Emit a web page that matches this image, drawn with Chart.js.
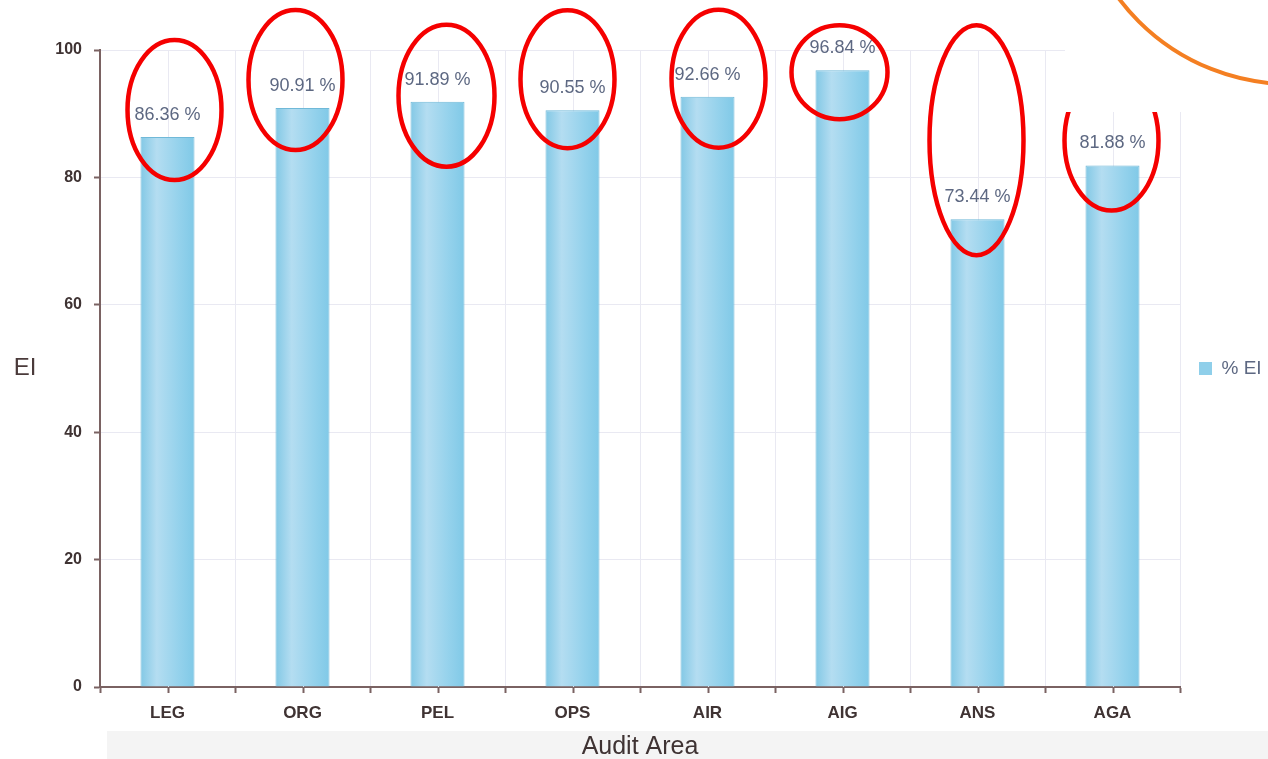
<!DOCTYPE html>
<html>
<head>
<meta charset="utf-8">
<script src="https://cdn.jsdelivr.net/npm/chart.js@4"></script>
<style>
  body { margin: 0; background: #fff; }
  canvas { display: block; }
</style>
</head>
<body>
<canvas id="audit" width="1268" height="759"></canvas>
<script>
// chart data
const areas = ['LEG', 'ORG', 'PEL', 'OPS', 'AIR', 'AIG', 'ANS', 'AGA'];
const eiValues = [86.36, 90.91, 91.89, 90.55, 92.66, 96.84, 73.44, 81.88];
const seriesName = '% EI';
const yTicks = [0, 20, 40, 60, 80, 100];

const FONT = "'Liberation Sans', Arial, sans-serif";
const axisColor = '#7a6262';
const gridColor = '#e9e9f2';
const labelColor = '#5d6882';

// hand-drawn red marks, placed relative to each bar (offset from bar centre / bar top)
const marks = [
    { dx: 7, dy: -27, rx: 47, ry: 70 },
    { dx: -7, dy: -28, rx: 47, ry: 70 },
    { dx: 9, dy: -6, rx: 48, ry: 71 },
    { dx: -5, dy: -31, rx: 47, ry: 69 },
    { dx: 11, dy: -18, rx: 47, ry: 69 },
    { dx: -3, dy: 2, rx: 48, ry: 47 },
    { dx: -1, dy: -79, rx: 47, ry: 115 },
    { dx: -1, dy: -25, rx: 47, ry: 70 }
];

function barGradient(c) {
    const chart = c.chart;
    const x = chart.scales.x;
    if (!chart.chartArea || !x || c.dataIndex === undefined) return '#95d2ea';
    const cx = x.getPixelForValue(c.dataIndex);
    const w = x.width / areas.length * 0.4;
    const g = chart.ctx.createLinearGradient(cx - w / 2, 0, cx + w / 2, 0);
    g.addColorStop(0, '#82c8e5');
    g.addColorStop(0.3, '#b4ddf1');
    g.addColorStop(0.7, '#95d2ec');
    g.addColorStop(1, '#80c9e7');
    return g;
}

const extras = {
    id: 'extras',
    beforeInit(chart) {
        const fit = chart.legend.fit;
        chart.legend.fit = function () {
            fit.call(this);
            this.width = 88;
        };
    },
    afterLayout(chart) {
        // keep the legend centred on the plot area
        const lg = chart.legend;
        lg.top = chart.chartArea.top;
        lg.bottom = chart.chartArea.bottom;
        lg.height = lg.bottom - lg.top;
    },
    beforeDraw(chart) {
        const ctx = chart.ctx;
        ctx.save();
        ctx.fillStyle = '#f4f4f4';
        ctx.fillRect(107, 731, chart.width - 107, chart.height - 731);
        ctx.restore();
    },
    beforeDatasetsDraw(chart) {
        const ctx = chart.ctx;
        const x = chart.scales.x;
        const area = chart.chartArea;
        ctx.save();
        areas.forEach((a, i) => {
            const px = Math.round(x.getPixelForValue(i)) + 0.5;
            ctx.strokeStyle = gridColor;
            ctx.lineWidth = 1;
            ctx.beginPath();
            ctx.moveTo(px, area.top);
            ctx.lineTo(px, area.bottom);
            ctx.stroke();
            ctx.strokeStyle = axisColor;
            ctx.lineWidth = 2;
            ctx.beginPath();
            ctx.moveTo(px, area.bottom);
            ctx.lineTo(px, area.bottom + 6);
            ctx.stroke();
        });
        // y axis title, written horizontally
        ctx.fillStyle = '#4a3a3a';
        ctx.font = '24px ' + FONT;
        ctx.textAlign = 'center';
        ctx.textBaseline = 'middle';
        ctx.fillText('EI', 25, (area.top + area.bottom) / 2);
        ctx.restore();
    },
    afterDatasetsDraw(chart) {
        const ctx = chart.ctx;
        const meta = chart.getDatasetMeta(0);
        ctx.save();
        ctx.fillStyle = labelColor;
        ctx.font = '18px ' + FONT;
        ctx.textAlign = 'center';
        ctx.textBaseline = 'alphabetic';
        meta.data.forEach((bar, i) => {
            ctx.fillText(eiValues[i].toFixed(2) + ' %', bar.x, bar.y - 17);
        });
        ctx.restore();
    },
    afterDraw(chart) {
        const ctx = chart.ctx;
        const meta = chart.getDatasetMeta(0);
        ctx.save();
        ctx.strokeStyle = '#f50000';
        ctx.lineWidth = 4.5;
        meta.data.forEach((bar, i) => {
            const m = marks[i];
            ctx.beginPath();
            ctx.ellipse(bar.x + m.dx, bar.y + m.dy, m.rx, m.ry, 0, 0, Math.PI * 2);
            ctx.stroke();
        });
        // pasted white patch over the top right corner
        ctx.fillStyle = '#ffffff';
        ctx.fillRect(1065, 0, chart.width - 1065, 112);
        // orange stroke from the slide behind
        ctx.strokeStyle = '#f47f22';
        ctx.lineWidth = 4;
        ctx.beginPath();
        ctx.arc(1290, -130, 214, 0, Math.PI);
        ctx.stroke();
        ctx.restore();
    }
};

new Chart(document.getElementById('audit'), {
    type: 'bar',
    data: {
        labels: areas,
        datasets: [{
            label: seriesName,
            data: eiValues,
            backgroundColor: barGradient,
            borderColor: '#70b9d8',
            borderWidth: 1,
            categoryPercentage: 1,
            barPercentage: 0.4
        }]
    },
    options: {
        responsive: false,
        animation: false,
        layout: { padding: { top: 50, left: 0, right: 0, bottom: 0 } },
        plugins: {
            tooltip: { enabled: false },
            legend: {
                position: 'right',
                labels: {
                    boxWidth: 13,
                    boxHeight: 13,
                    padding: 19,
                    color: labelColor,
                    font: { family: FONT, size: 19 },
                    generateLabels: chart => [{
                        text: seriesName,
                        fillStyle: '#8fcfea',
                        strokeStyle: '#8fcfea',
                        fontColor: labelColor,
                        lineWidth: 0,
                        datasetIndex: 0
                    }]
                }
            }
        },
        scales: {
            x: {
                afterFit: s => { s.height = 72; },
                grid: {
                    color: gridColor,
                    tickColor: axisColor,
                    tickLength: 6,
                    tickWidth: 2,
                    offset: true
                },
                border: { color: axisColor, width: 2 },
                ticks: {
                    color: '#3f3333',
                    padding: 10,
                    font: { family: FONT, size: 17, weight: 'bold' }
                },
                title: {
                    display: true,
                    text: 'Audit Area',
                    color: '#3f3333',
                    padding: { top: 2, bottom: -3 },
                    font: { family: FONT, size: 25 }
                }
            },
            y: {
                min: 0,
                max: 100,
                afterFit: s => { s.width = 100; },
                afterBuildTicks: s => { s.ticks = yTicks.map(v => ({ value: v })); },
                grid: {
                    color: gridColor,
                    tickColor: axisColor,
                    tickLength: 6,
                    tickWidth: 2
                },
                border: { color: axisColor, width: 2 },
                ticks: {
                    color: '#3f3333',
                    padding: 12,
                    font: { family: FONT, size: 16, weight: 'bold' }
                }
            }
        }
    },
    plugins: [extras]
});
</script>
</body>
</html>
